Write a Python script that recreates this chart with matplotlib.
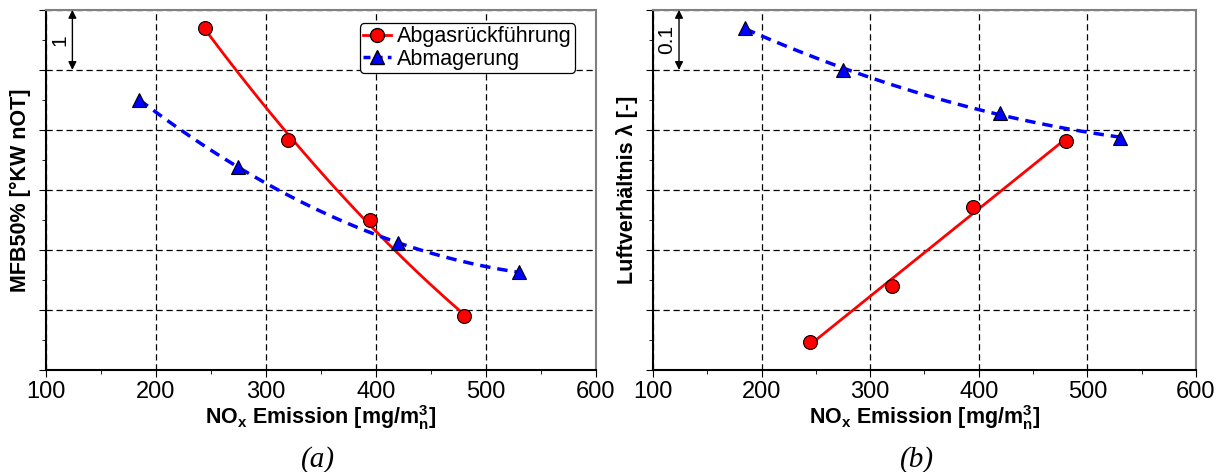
import numpy as np
import matplotlib
matplotlib.use('Agg')
import matplotlib.pyplot as plt

plt.rcParams['font.family'] = ['Liberation Sans', 'DejaVu Sans']
plt.rcParams['mathtext.fontset'] = 'custom'
plt.rcParams['mathtext.rm'] = 'Liberation Sans'
plt.rcParams['mathtext.bf'] = 'Liberation Sans:bold'

# (a) MFB50% vs NOx
nox_agr_a = [245, 320, 395, 480]
mfb_agr = [11.70, 9.83, 8.50, 6.90]
nox_abm_a = [185, 275, 420, 530]
mfb_abm = [10.50, 9.38, 8.12, 7.63]

# (b) lambda vs NOx
nox_agr_b = [245, 320, 395, 480]
lam_agr = [1.047, 1.140, 1.272, 1.382]
nox_abm_b = [185, 275, 420, 530]
lam_abm = [1.570, 1.500, 1.428, 1.387]

red = '#ff0000'
blue = '#0000ff'

fig = plt.figure(figsize=(12.2, 4.72), dpi=100)
ax1 = fig.add_axes([0.0377, 0.216, 0.4508, 0.763])
ax2 = fig.add_axes([0.5352, 0.216, 0.4451, 0.763])


def fit_curve(x, y, deg):
    c = np.polyfit(x, y, deg)
    xs = np.linspace(min(x), max(x), 100)
    return xs, np.polyval(c, xs)


def style_axes(ax, ylim, step, ylabel, scale_txt):
    ax.set_xlim(100, 600)
    ax.set_ylim(*ylim)
    ax.set_xticks(np.arange(100, 601, 100))
    ax.set_xticks(np.arange(150, 600, 100), minor=True)
    ax.set_yticks(np.arange(ylim[0], ylim[1] + step / 2, step))
    ax.set_yticks(np.arange(ylim[0] + step / 2, ylim[1], step), minor=True)
    ax.set_yticklabels([])
    ax.tick_params(which='both', direction='out', labelsize=17)
    ax.tick_params(which='major', length=5)
    ax.tick_params(which='minor', length=3)
    ax.tick_params(axis='x', pad=3)
    ax.grid(True, which='major', color='black', linestyle=(0, (5, 3)), linewidth=0.9)
    for s in ['top', 'right']:
        ax.spines[s].set_color('#808080')
        ax.spines[s].set_linewidth(1.5)
    for s in ['left', 'bottom']:
        ax.spines[s].set_linewidth(1.5)
    ax.set_xlabel(r'NO$_\mathbf{x}$ Emission [mg/m$_\mathbf{n}^\mathbf{3}$]',
                  fontsize=15.5, fontweight='bold', labelpad=0)
    ax.set_ylabel(ylabel, fontsize=15.5, fontweight='bold', labelpad=2)
    # scale bar
    ax.annotate('', xy=(124, ylim[1]), xytext=(124, ylim[1] - step),
                arrowprops=dict(arrowstyle='<|-|>', color='black', lw=1,
                                mutation_scale=12, shrinkA=0, shrinkB=0))
    ax.text(113, ylim[1] - step / 2, scale_txt, rotation=90, ha='center',
            va='center', fontsize=15)


style_axes(ax1, (6, 12), 1, 'MFB50% [°KW nOT]', '1')
style_axes(ax2, (1.0, 1.6), 0.1, 'Luftverhältnis λ [-]', '0.1')

# panel (a)
xs, ys = fit_curve(nox_agr_a, mfb_agr, 2)
ax1.plot(xs, ys, color=red, lw=2, zorder=3)
xs, ys = fit_curve(nox_abm_a, mfb_abm, 2)
ax1.plot(xs, ys, color=blue, lw=2.5, ls=(0, (3, 2)), zorder=3)
ax1.plot(nox_agr_a, mfb_agr, 'o', color=red, mec='black', mew=0.8, ms=10, zorder=4)
ax1.plot(nox_abm_a, mfb_abm, '^', color=blue, mec='black', mew=0.8, ms=10, zorder=4)
l1, = ax1.plot([], [], color=red, lw=2, marker='o', mfc=red, mec='black', ms=10)
l2, = ax1.plot([], [], color=blue, lw=2.5, ls=(0, (2, 1.5)), marker='^',
               mfc=blue, mec='black', ms=10)
leg = ax1.legend([l1, l2], ['Abgasrückführung', 'Abmagerung'], loc='upper right',
                 bbox_to_anchor=(0.97, 0.975), fontsize=15.5, handlelength=1.3,
                 handletextpad=0.3, borderpad=0.15, labelspacing=0.05,
                 fancybox=True, framealpha=1, edgecolor='black', borderaxespad=0.2)
leg.get_frame().set_linewidth(0.9)

# panel (b)
c = np.polyfit(nox_agr_b, lam_agr, 1)
xs = np.linspace(min(nox_agr_b), max(nox_agr_b), 50)
ax2.plot(xs, np.polyval(c, xs), color=red, lw=2, zorder=3)
xs, ys = fit_curve(nox_abm_b, lam_abm, 2)
ax2.plot(xs, ys, color=blue, lw=2.5, ls=(0, (3, 2)), zorder=3)
ax2.plot(nox_agr_b, lam_agr, 'o', color=red, mec='black', mew=0.8, ms=10, zorder=4)
ax2.plot(nox_abm_b, lam_abm, '^', color=blue, mec='black', mew=0.8, ms=10, zorder=4)

fig.text(0.261, 0.012, '(a)', fontsize=21, style='italic', family='Liberation Serif',
         ha='center')
fig.text(0.752, 0.012, '(b)', fontsize=21, style='italic', family='Liberation Serif',
         ha='center')

fig.savefig('out.png', dpi=100)
